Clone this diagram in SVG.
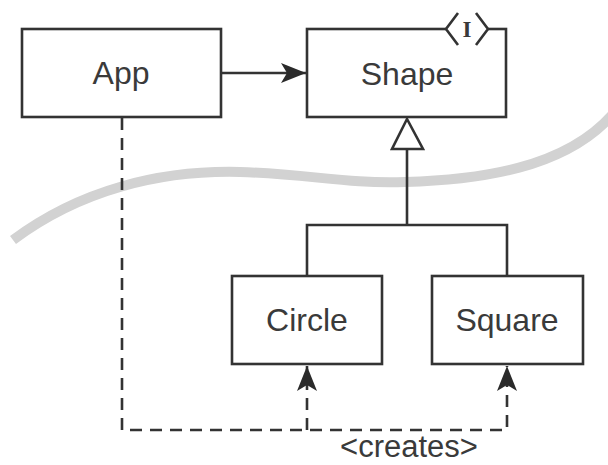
<svg xmlns="http://www.w3.org/2000/svg" width="608" height="465" viewBox="0 0 608 465">
<defs>
<style>
.box{fill:#fff;stroke:#333;stroke-width:2.6}
.lbl{font-family:"Liberation Sans",Arial,sans-serif;font-size:32px;fill:#3a3a3a;text-anchor:middle}
.ln{fill:none;stroke:#333;stroke-width:2.6}
.dash{fill:none;stroke:#333;stroke-width:2.6;stroke-dasharray:12 8}
</style>
<marker id="arr" viewBox="-26 -11 28 22" refX="0" refY="0" markerWidth="28" markerHeight="22" markerUnits="userSpaceOnUse" orient="auto">
<path d="M0,0 L-25,-10 L-19,0 L-25,10 Z" fill="#2a2a2a"/>
</marker>
</defs>
<rect width="608" height="465" fill="#fff"/>
<path d="M13 240 C80 190,160 170,240 172 C310 174,345 184,405 182 C480 180,565 168,612 115" fill="none" stroke="#d2d2d2" stroke-width="10"/>
<g id="connectors">
<line class="ln" x1="221" y1="73" x2="306" y2="73" marker-end="url(#arr)"/>
<polyline class="ln" points="307,276 307,225 507,225 507,276"/>
<line class="ln" x1="407" y1="225" x2="407" y2="149"/>
<polygon points="407,119 392,149 423,149" fill="#fff" stroke="#333" stroke-width="2.6"/>
<polyline class="dash" points="122,118 122,430 507,430 507,366" marker-end="url(#arr)"/>
<line class="dash" x1="307" y1="430" x2="307" y2="366" marker-end="url(#arr)"/>
<text class="lbl" x="409" y="457" style="font-size:31px">&lt;creates&gt;</text>
</g>
<g id="app">
<rect class="box" x="22" y="29" width="199" height="88"/>
<text class="lbl" x="121" y="84">App</text>
</g>
<g id="shape">
<rect class="box" x="307" y="29" width="199" height="88"/>
<rect x="447" y="26" width="40" height="6" fill="#fff"/>
<polyline class="ln" points="458,13 446,29 458,45"/>
<polyline class="ln" points="476,13 488,29 476,45"/>
<text x="467" y="37" text-anchor="middle" style="font-family:'Liberation Serif',serif;font-size:23px;font-weight:bold;fill:#3a3a3a">I</text>
<text class="lbl" x="407" y="85">Shape</text>
</g>
<g id="circle">
<rect class="box" x="232" y="276" width="150" height="88"/>
<text class="lbl" x="307" y="331">Circle</text>
</g>
<g id="square">
<rect class="box" x="432" y="276" width="151" height="88"/>
<text class="lbl" x="507" y="331">Square</text>
</g>
</svg>
